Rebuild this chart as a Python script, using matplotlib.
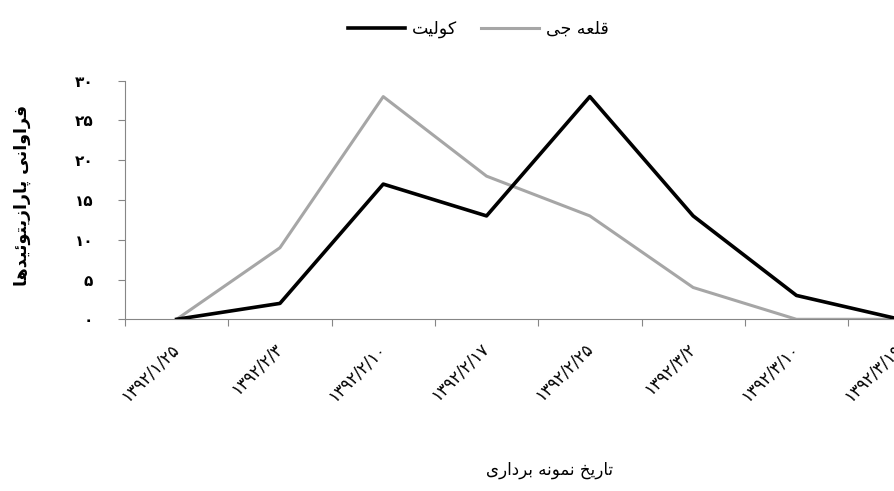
import numpy as np
import matplotlib
matplotlib.use('Agg')
import matplotlib.pyplot as plt

# data
dates = ['۱۳۹۲/۱/۲۵', '۱۳۹۲/۲/۳', '۱۳۹۲/۲/۱۰', '۱۳۹۲/۲/۱۷',
         '۱۳۹۲/۲/۲۵', '۱۳۹۲/۳/۲', '۱۳۹۲/۳/۱۰', '۱۳۹۲/۳/۱۹']
koulit = [0, 2, 17, 13, 28, 13, 3, 0]
ghaleh_jey = [0, 9, 28, 18, 13, 4, 0, 0]
yticks = [0, 5, 10, 15, 20, 25, 30]
ytick_labels = ['۰', '۵', '۱۰', '۱۵', '۲۰', '۲۵', '۳۰']

name_koulit = 'کولیت'
name_ghaleh = 'قلعه جی'
xlabel = 'تاریخ نمونه برداری'
ylabel = 'فراوانی پارازیتوئیدها'

# matplotlib has no arabic shaping, so pick presentation forms by hand
# (isolated, final, initial, medial)
FORMS = {
    'ا': ('\uFE8D', '\uFE8E', None, None),
    'د': ('\uFEA9', '\uFEAA', None, None),
    'ر': ('\uFEAD', '\uFEAE', None, None),
    'ز': ('\uFEAF', '\uFEB0', None, None),
    'و': ('\uFEED', '\uFEEE', None, None),
    'ب': ('\uFE8F', '\uFE90', '\uFE91', '\uFE92'),
    'پ': ('\uFB56', '\uFB57', '\uFB58', '\uFB59'),
    'ت': ('\uFE95', '\uFE96', '\uFE97', '\uFE98'),
    'ج': ('\uFE9D', '\uFE9E', '\uFE9F', '\uFEA0'),
    'خ': ('\uFEA5', '\uFEA6', '\uFEA7', '\uFEA8'),
    'ع': ('\uFEC9', '\uFECA', '\uFECB', '\uFECC'),
    'ف': ('\uFED1', '\uFED2', '\uFED3', '\uFED4'),
    'ق': ('\uFED5', '\uFED6', '\uFED7', '\uFED8'),
    'ک': ('\uFB8E', '\uFB8F', '\uFB90', '\uFB91'),
    'ل': ('\uFEDD', '\uFEDE', '\uFEDF', '\uFEE0'),
    'م': ('\uFEE1', '\uFEE2', '\uFEE3', '\uFEE4'),
    'ن': ('\uFEE5', '\uFEE6', '\uFEE7', '\uFEE8'),
    'ه': ('\uFEE9', '\uFEEA', '\uFEEB', '\uFEEC'),
    'ی': ('\uFBFC', '\uFBFD', '\uFBFE', '\uFBFF'),
    'ئ': ('\uFE89', '\uFE8A', '\uFE8B', '\uFE8C'),
}


def fa(s):
    out = []
    for i, c in enumerate(s):
        if c not in FORMS:
            out.append(c)
            continue
        iso, fin, ini, med = FORMS[c]
        prev = s[i - 1] if i > 0 else ''
        nxt = s[i + 1] if i + 1 < len(s) else ''
        jp = prev in FORMS and FORMS[prev][2] is not None
        jn = ini is not None and nxt in FORMS
        if jp and jn:
            out.append(med)
        elif jp:
            out.append(fin)
        elif jn:
            out.append(ini)
        else:
            out.append(iso)
    return ''.join(reversed(out))


plt.rcParams['font.family'] = ['DejaVu Sans']

fig = plt.figure(figsize=(8.94, 4.91), dpi=100)
# plot area runs past the right edge, like the cropped original
ax = fig.add_axes([125 / 894, 1 - 319.3 / 491, 826.4 / 894, (319.3 - 80.7) / 491])

x = np.arange(len(dates))
ax.plot(x, koulit, color='black', lw=2.6, label=fa(name_koulit), zorder=3)
ax.plot(x, ghaleh_jey, color='#A6A6A6', lw=2.2, label=fa(name_ghaleh), zorder=2)

ax.set_xlim(-0.5, len(dates) - 0.5)
ax.set_ylim(0, 30)
ax.set_yticks(yticks)
ax.set_yticklabels(ytick_labels, fontsize=11, fontweight='bold')

ax.set_xticks(np.arange(-0.5, len(dates) + 0.5))
ax.set_xticklabels([])
ax.set_xticks(x, minor=True)
ax.set_xticklabels(dates, minor=True, rotation=45, ha='right', va='center',
                   rotation_mode='anchor', fontsize=12)
ax.tick_params(axis='x', which='minor', length=0, pad=19)
ax.tick_params(axis='x', which='major', length=5, width=0.8, color='#868686')
ax.tick_params(axis='y', length=5, width=0.8, color='#868686', pad=18)

for s in ['top', 'right']:
    ax.spines[s].set_visible(False)
for s in ['left', 'bottom']:
    ax.spines[s].set_color('#868686')
    ax.spines[s].set_linewidth(0.8)

fig.text(22 / 894, 1 - 195 / 491, fa(ylabel), rotation=90, ha='center',
         va='center', fontsize=12.5, fontweight='bold')
fig.text(550 / 894, 1 - 470 / 491, fa(xlabel), ha='center', va='center',
         fontsize=12)

fig.legend(loc='center', bbox_to_anchor=(478 / 894, 1 - 29 / 491), ncol=2,
           frameon=False, fontsize=12.5, handlelength=3.3, handletextpad=0.4,
           columnspacing=1.4)

fig.savefig('out.png', dpi=100)
